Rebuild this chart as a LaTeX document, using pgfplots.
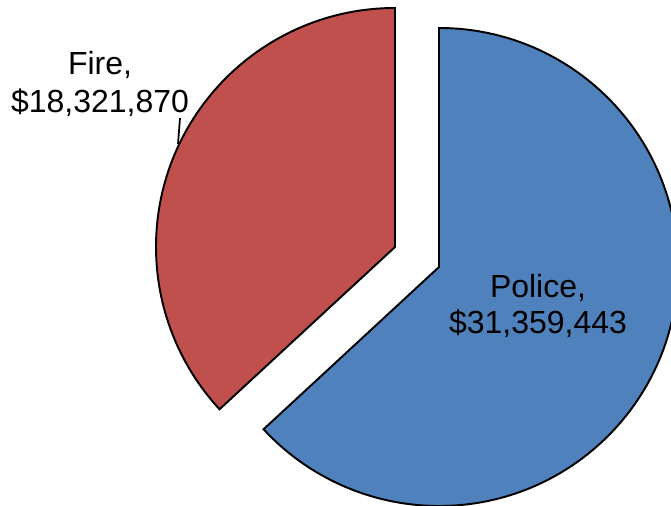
\documentclass[border=0pt]{standalone}
\usepackage{pgfplots}
\pgfplotsset{compat=1.18}
\usepackage{fontspec}
\setmainfont{Liberation Sans}
\definecolor{firered}{HTML}{C0504D}
\definecolor{policeblue}{HTML}{4F81BD}
% data
\def\valPolice{31359443}
\def\valFire{18321870}
\edef\angPolice{\fpeval{360*\valPolice/(\valPolice+\valFire)}}
\edef\angFire{\fpeval{360*\valFire/(\valPolice+\valFire)}}
\edef\endPolice{\fpeval{90-\angPolice}}
\edef\endFire{\fpeval{90+\angFire}}
\begin{document}
\begin{tikzpicture}
\begin{axis}[
  name=pie,
  scale only axis, width=13.42cm, height=10.1cm,
  xmin=0, xmax=671, ymin=0, ymax=505,
  hide axis, clip=false,
]
% Police slice (exploded toward lower right)
\draw[fill=policeblue, line width=1.1pt, line join=miter]
  (axis cs:439,238) -- (axis cs:439,477)
  arc[start angle=90, end angle=\endPolice, radius=4.78cm] -- cycle;
% Fire slice (exploded toward upper left)
\draw[fill=firered, line width=1.1pt, line join=miter]
  (axis cs:395,258) -- (axis cs:395,497)
  arc[start angle=90, end angle=\endFire, radius=4.78cm] -- cycle;
% leader line
\draw[line width=1pt] (axis cs:180,387) -- (axis cs:178,361);
% labels
\node[anchor=base, inner sep=0pt, font=\fontsize{18.2}{21.6}\selectfont] at (axis cs:100,430) {Fire,};
\node[anchor=base, inner sep=0pt, font=\fontsize{18.2}{21.6}\selectfont] at (axis cs:100,392) {\$18,321,870};
\node[anchor=base, inner sep=0pt, font=\fontsize{18.2}{21.6}\selectfont] at (axis cs:538,207) {Police,};
\node[anchor=base, inner sep=0pt, font=\fontsize{18.2}{21.6}\selectfont] at (axis cs:538,171) {\$31,359,443};
\end{axis}
\pgfresetboundingbox
\path[use as bounding box] (pie.south west) rectangle (pie.north east);
\end{tikzpicture}
\end{document}
